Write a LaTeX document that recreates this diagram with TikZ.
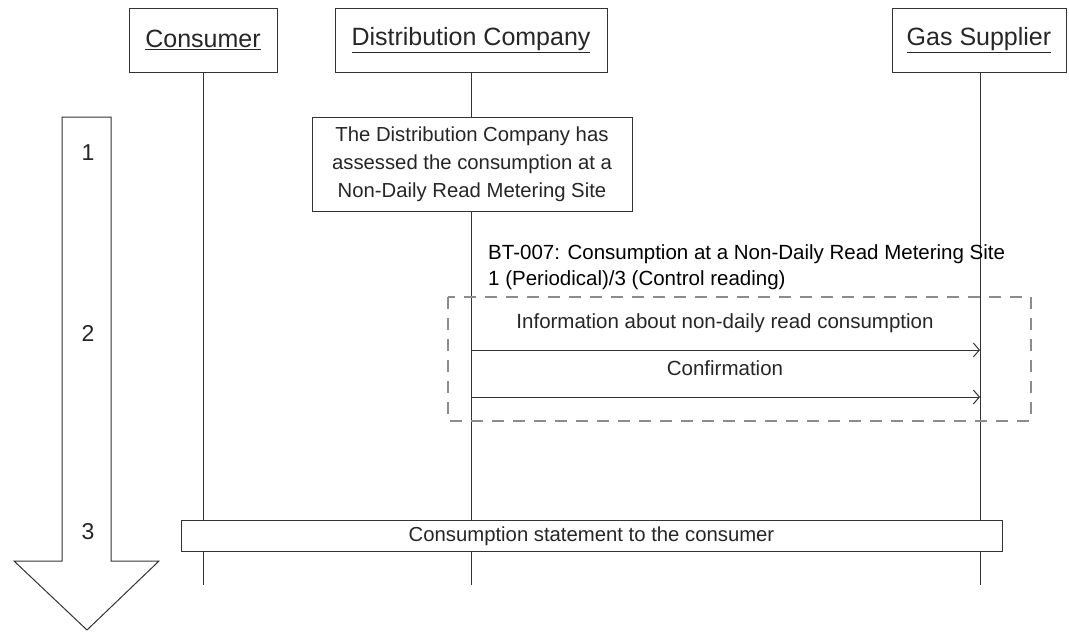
\documentclass[tikz,border=0pt]{standalone}
\usepackage{fontspec}
\setmainfont{Liberation Sans}
\usetikzlibrary{arrows.meta}
\begin{document}
\begin{tikzpicture}[x=1pt,y=-1pt,
  every node/.style={text=black!85},
  line/.style={draw=black!80, line width=1pt},
  header/.style={line, rectangle, inner sep=0pt, font=\fontsize{25}{28}\selectfont},
  note/.style={line, rectangle, inner sep=0pt, align=center, font=\fontsize{20.3}{28}\selectfont},
  lbl/.style={font=\fontsize{20.5}{24}\selectfont, inner sep=0pt},
  msg/.style={line, -{Straight Barb[length=6pt,width=14pt]}},
  num/.style={font=\fontsize{23}{26}\selectfont, inner sep=0pt}]
\useasboundingbox (0,0) rectangle (1069,632);
% headers
\node[header, minimum width=148pt, minimum height=64pt] (cons) at (203,40) {\underline{Consumer}};
\node[header, minimum width=272pt, minimum height=64pt] (dist) at (471,40) {\underline{Distribution Company}};
\node[header, minimum width=174pt, minimum height=64pt] (gas) at (979,40) {\underline{Gas Supplier}};
% lifeline ends
\coordinate (consE) at (203,585);
\coordinate (distE) at (471,585);
\coordinate (gasE) at (980,585);
% big arrow
\draw[line] (62,117) -- (111,117) -- (111,561) -- (159,561) -- (87,630) -- (14,561) -- (62,561) -- cycle;
\node[num] (n1) at (88,153) {1};
\node[num] (n2) at (88,333) {2};
\node[num] (n3) at (88,532) {3};
% lifelines
\draw[line] (cons.south) -- (consE);
\draw[line] (gas.south -| gasE) -- (gasE);
% note
\node[note, minimum width=320pt, minimum height=94pt, fill=white] (note) at (472,164) {The Distribution Company has\\assessed the consumption at a\\Non-Daily Read Metering Site};
\draw[line] (dist.south) -- (note.north -| dist.south);
\draw[line] (note.south -| dist.south) -- (distE);
% BT label
\node[lbl, anchor=west, text=black] (bt1) at (488,254) {BT-007: Consumption at a Non-Daily Read Metering Site};
\node[lbl, anchor=west, text=black] (bt2) at (488,280) {1 (Periodical)/3 (Control reading)};
% dashed box
\draw[draw=black!45, line width=1.3pt, dash pattern=on 12pt off 9pt] (448,297) rectangle (1031,421);
% messages
\coordinate (m1s) at (471,350); \coordinate (m1e) at (980,350);
\coordinate (m2s) at (471,397); \coordinate (m2e) at (980,397);
\draw[msg] (m1s) -- (m1e);
\draw[msg] (m2s) -- (m2e);
\node[lbl] (l1) at (725,323) {Information about non-daily read consumption};
\node[lbl] (l2) at (725,368) {Confirmation};
% bottom box
\node[note, minimum width=821pt, minimum height=31pt, fill=white] (stmt) at (591.5,536) {Consumption statement to the consumer};
\end{tikzpicture}
\end{document}
